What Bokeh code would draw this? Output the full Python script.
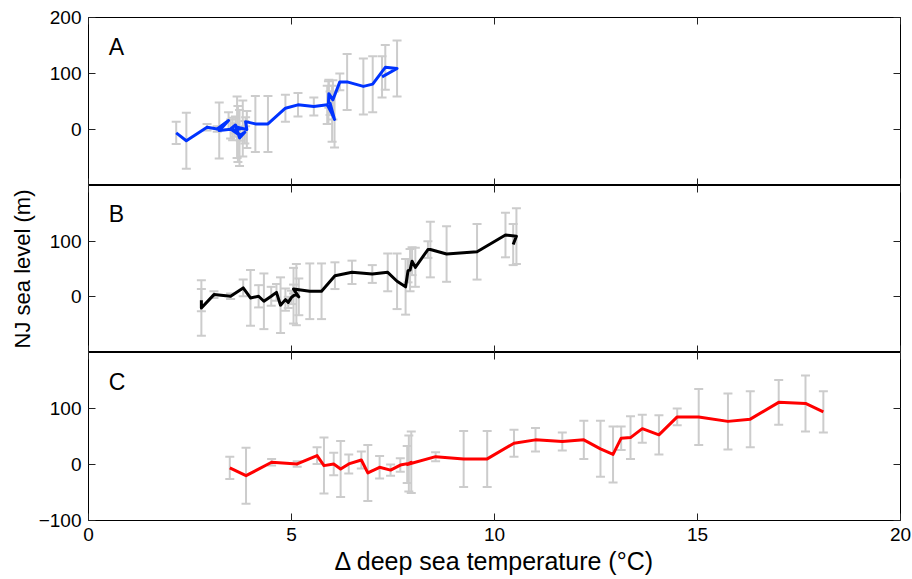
from bokeh.plotting import figure
from bokeh.models import (Range1d, LinearAxis, FixedTicker, Whisker, TeeHead,
                          ColumnDataSource, Label)
from bokeh.layouts import column
from bokeh.embed import file_html
from bokeh.resources import INLINE

# ---------------- data ----------------
sea_level = [-6, -20, 4, 1, 16, -2, 1, -8, 1, 8, -15, -5, -10, -1, 2, 4, 0, 14, 10, 10,
             38, 44, 41, 44, 28, 18, 47, 48, 64, 53, 85, 85, 77, 81, 111, 109, 94]
sea_err = [20, 50, 6, 5, 15, 50, 20, 50, 17, 15, 50, 20, 10, 12, 50, 55, 33, 8, 50, 50,
           24, 21, 16, 34, 50, 50, 21, 38, 25, 35, 15, 50, 50, 50, 40, 50, 37]
temp_a = [2.16, 2.41, 2.92, 3.17, 3.45, 3.22, 3.55, 3.68, 3.50, 3.62, 3.72, 3.85, 3.74,
          3.60, 3.80, 3.66, 3.90, 3.87, 4.11, 4.42, 4.85, 5.16, 5.55, 5.88, 6.00, 6.06,
          5.95, 5.91, 5.92, 6.02, 6.19, 6.37, 6.77, 7.00, 7.31, 7.60, 7.23]
temp_b = [2.78, 2.78, 3.09, 3.50, 3.81, 3.99, 4.19, 4.32, 4.50, 4.63, 4.73, 4.85, 4.92,
          5.00, 5.05, 5.12, 5.18, 5.05, 5.45, 5.74, 6.07, 6.49, 6.99, 7.37, 7.60, 7.81,
          7.87, 7.92, 7.97, 8.05, 8.36, 8.42, 8.82, 9.57, 10.27, 10.54, 10.46]
temp_c = [3.48, 3.88, 4.51, 5.14, 5.63, 5.80, 6.04, 6.21, 6.41, 6.72, 6.88, 7.17, 7.44,
          7.68, 7.89, 7.95, 7.85, 8.55, 9.24, 9.82, 10.48, 11.01, 11.67, 12.20, 12.61,
          12.92, 13.12, 13.35, 13.64, 14.05, 14.50, 15.03, 15.75, 16.30, 17.00, 17.66, 18.10]

x_ticks = [0, 5, 10, 15, 20]
y_ticks_a = [0, 100, 200]
y_ticks_b = [0, 100]
y_ticks_c = [-100, 0, 100]
panel_letters = ["A", "B", "C"]
x_label = "\u0394 deep sea temperature (\u00b0C)"
y_label = "NJ sea level (m)"

FONT = "Liberation Sans"
GREY = "#cccccc"


def axis(ticks, show_labels):
    ax = LinearAxis(ticker=FixedTicker(ticks=ticks), major_tick_in=7, major_tick_out=0,
                    minor_tick_in=0, minor_tick_out=0, axis_line_color=None,
                    major_tick_line_color="#222222", major_tick_line_width=1,
                    major_label_text_font=FONT,
                    axis_label_text_font=FONT, axis_label_text_font_style="normal",
                    axis_label_text_color="black")
    ax.major_label_overrides = {-100: "\u2212100"}
    if show_labels:
        ax.major_label_text_font_size = "19px"
        ax.major_label_text_color = "black"
        ax.major_label_standoff = 7
    else:
        ax.major_label_text_font_size = "0px"
        ax.major_label_text_color = None
        ax.major_label_text_alpha = 0
        ax.major_label_standoff = 0
    return ax


def panel(xs, color, yticks, letter, top_b, bottom_b, frame_h, show_x=False, ylab=None):
    p = figure(frame_width=812, frame_height=frame_h,
               x_range=Range1d(0, 20), y_range=Range1d(-100, 200),
               x_axis_type=None, y_axis_type=None, toolbar_location=None,
               output_backend="svg", min_border_left=88, min_border_right=12,
               min_border_top=top_b, min_border_bottom=bottom_b)
    p.outline_line_color = "black"
    p.outline_line_width = 1
    p.outline_line_alpha = 1
    p.background_fill_color = "white"
    p.border_fill_color = "white"

    left = axis(yticks, True)
    if ylab:
        left.axis_label = ylab
        left.axis_label_text_font_size = "22px"
        left.axis_label_standoff = 12
    p.add_layout(left, "left")
    p.add_layout(axis(yticks, False), "right")
    p.add_layout(axis(x_ticks, False), "above")
    bottom = axis(x_ticks, show_x)
    if show_x:
        bottom.axis_label = x_label
        bottom.axis_label_text_font_size = "25px"
        bottom.axis_label_standoff = 3
    p.add_layout(bottom, "below")

    src = ColumnDataSource(dict(
        x=xs, y=sea_level,
        upper=[v + e for v, e in zip(sea_level, sea_err)],
        lower=[v - e for v, e in zip(sea_level, sea_err)]))
    w = Whisker(source=src, base="x", upper="upper", lower="lower",
                line_color=GREY, line_width=2, level="underlay",
                upper_head=TeeHead(size=9, line_color=GREY, line_width=2),
                lower_head=TeeHead(size=9, line_color=GREY, line_width=2))
    p.add_layout(w)
    p.line("x", "y", source=src, line_color=color, line_width=3, line_join="round")
    p.add_layout(Label(x=0.5, y=148, text=letter, text_font=FONT, text_font_size="23px",
                       text_baseline="middle", text_color="black"))
    return p


pa = panel(temp_a, "#0033ff", y_ticks_a, panel_letters[0], 17, 0, 168)
pb = panel(temp_b, "#000000", y_ticks_b, panel_letters[1], 0, 0, 167, ylab=y_label)
pc = panel(temp_c, "#ff0000", y_ticks_c, panel_letters[2], 0, 59, 168, show_x=True)

layout = column(pa, pb, pc, spacing=0)
open("out.html", "w").write(file_html(layout, INLINE))
